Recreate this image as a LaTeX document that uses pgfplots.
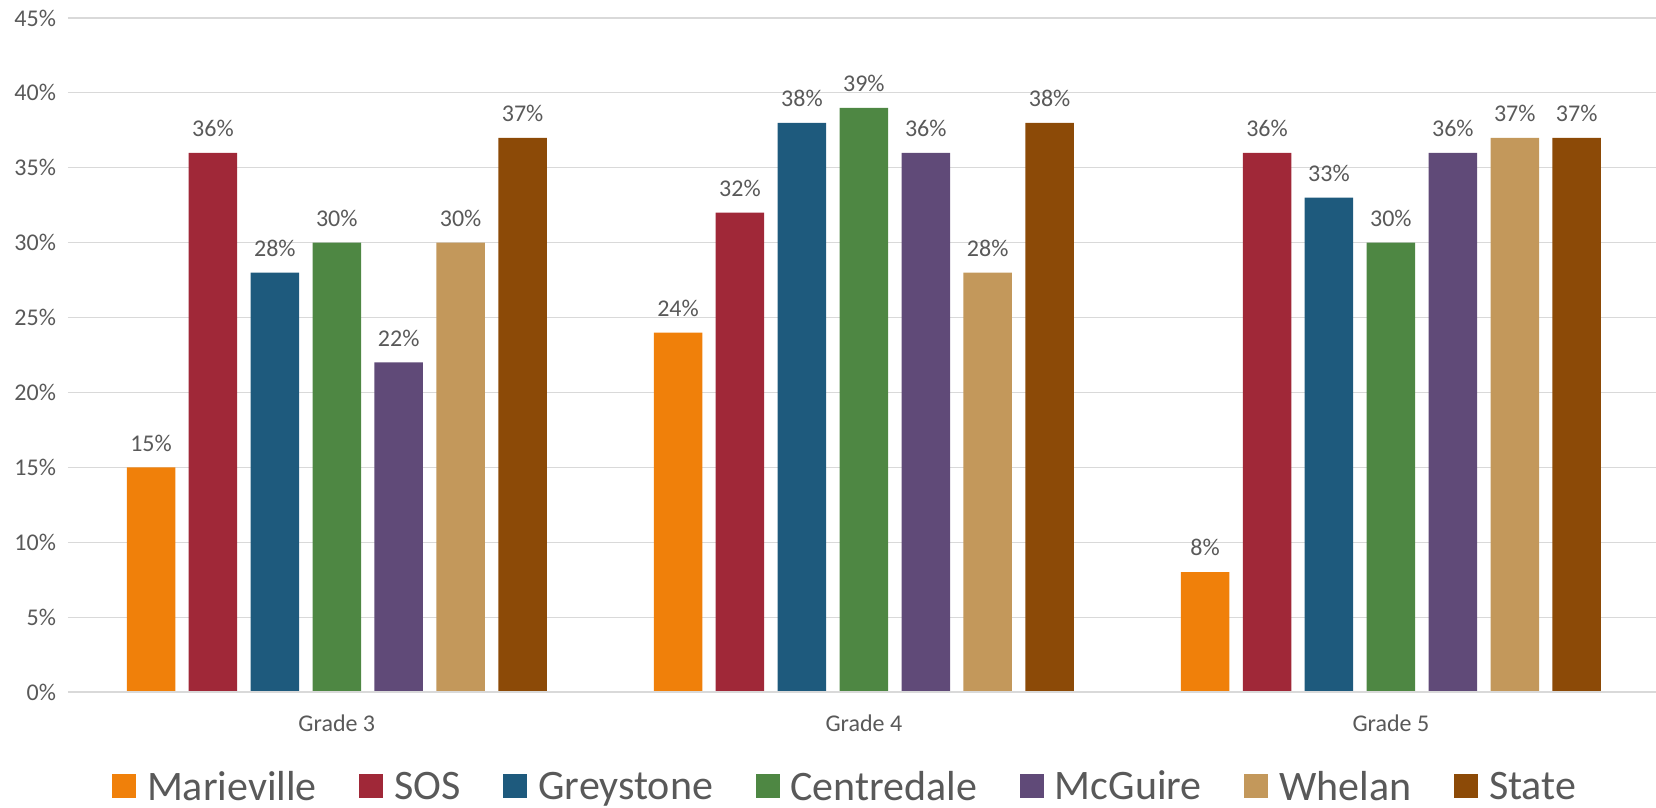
\documentclass[border=0pt]{standalone}
\usepackage{fontspec}
\setmainfont{Carlito}
\usepackage{pgfplots}
\pgfplotsset{compat=1.18}

\definecolor{cMar}{HTML}{F0800A}
\definecolor{cSOS}{HTML}{A02838}
\definecolor{cGre}{HTML}{1E5A7D}
\definecolor{cCen}{HTML}{4E8743}
\definecolor{cMcG}{HTML}{604A78}
\definecolor{cWhe}{HTML}{C3985B}
\definecolor{cSta}{HTML}{8C4A07}
\definecolor{txt}{HTML}{595959}
\definecolor{grid}{HTML}{D9D9D9}

\begin{document}
\begin{tikzpicture}
\begin{axis}[
  scale only axis,
  width=794pt, height=337pt,
  xmin=-0.51, xmax=2.503,
  ymin=0, ymax=45,
  ytick={0,5,...,45},
  yticklabel={\pgfmathprintnumber{\tick}\%},
  xtick={0,1,2},
  xticklabels={Grade 3, Grade 4, Grade 5},
  /pgf/number format/assume math mode=true,
  major tick length=0pt,
  axis line style={draw=none},
  ymajorgrids,
  grid style={draw=grid, line width=0.6pt},
  tick label style={font=\fontsize{12}{14}\selectfont, text=txt},
  xticklabel style={yshift=-8pt},
  yticklabel style={xshift=-2.5pt},
  ybar,
  bar width=0.092,
  every axis plot/.append style={draw=none},
  nodes near coords={\pgfmathprintnumber{\pgfplotspointmeta}\%},
  every node near coord/.append style={font=\fontsize{12}{14}\selectfont, text=txt, yshift=4.5pt},
  legend style={
    at={(0.49,-0.141)}, anchor=center, draw=none, fill=none,
    legend columns=7,
    font=\fontsize{21}{25}\selectfont, text=txt,
    /tikz/every odd column/.append style={column sep=3.5pt},
    /tikz/every even column/.append style={column sep=19.3pt},
  },
  legend image code/.code={\fill[#1] (0pt,-5.7pt) rectangle (12pt,6.3pt);},
]
\addplot[fill=cMar, bar shift=-0.3525] coordinates {(0,15) (1,24) (2,8)};
\addplot[fill=cSOS, bar shift=-0.235]  coordinates {(0,36) (1,32) (2,36)};
\addplot[fill=cGre, bar shift=-0.1175] coordinates {(0,28) (1,38) (2,33)};
\addplot[fill=cCen, bar shift=0]       coordinates {(0,30) (1,39) (2,30)};
\addplot[fill=cMcG, bar shift=0.1175]  coordinates {(0,22) (1,36) (2,36)};
\addplot[fill=cWhe, bar shift=0.235]   coordinates {(0,30) (1,28) (2,37)};
\addplot[fill=cSta, bar shift=0.3525]  coordinates {(0,37) (1,38) (2,37)};
\legend{Marieville, SOS, Greystone, Centredale, McGuire, Whelan, State}
\draw[grid, line width=1.2pt] (rel axis cs:0,0) -- (rel axis cs:1,0);
\coordinate (o) at (rel axis cs:0,0);
\end{axis}
\pgfresetboundingbox
\path[use as bounding box] (o) ++(-34pt,-58pt) rectangle ++(828pt,404pt);
\end{tikzpicture}
\end{document}
